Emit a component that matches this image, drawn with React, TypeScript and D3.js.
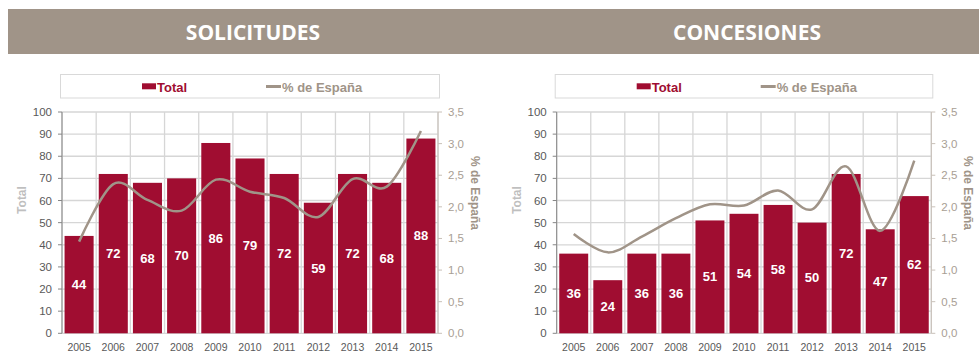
import React from 'react';
import * as d3 from 'd3';

const years = ['2005', '2006', '2007', '2008', '2009', '2010', '2011', '2012', '2013', '2014', '2015'];
const solicitudesTotal = [44, 72, 68, 70, 86, 79, 72, 59, 72, 68, 88];
const solicitudesPct = [1.45, 2.36, 2.11, 1.94, 2.43, 2.24, 2.14, 1.84, 2.44, 2.32, 3.2];
const concesionesTotal = [36, 24, 36, 36, 51, 54, 58, 50, 72, 47, 62];
const concesionesPct = [1.57, 1.28, 1.53, 1.82, 2.04, 2.02, 2.26, 1.96, 2.64, 1.62, 2.73];
const leftTicks = [0, 10, 20, 30, 40, 50, 60, 70, 80, 90, 100];
const rightTicks = [0, 0.5, 1, 1.5, 2, 2.5, 3, 3.5];
const titles = ['SOLICITUDES', 'CONCESIONES'];

const BAR = '#a00d31';
const LINE = '#a09488';
const GRID = '#d6d6d6';
const TXT = '#595959';
const FONT = '"Liberation Sans", Arial, sans-serif';

function Panel({ left, right, title, totals, pcts }: { left: number; right: number; title: string; totals: number[]; pcts: number[] }) {
  const top = 112;
  const bottom = 333.3;
  const x = d3.scaleBand<string>().domain(years).range([left, right]).paddingInner(0.15).paddingOuter(0.075);
  const y = d3.scaleLinear().domain([0, 100]).range([bottom, top]);
  const y2 = d3.scaleLinear().domain([0, 3.5]).range([bottom, top]);
  const step = x.step();
  const line = d3
    .line<number>()
    .x((_, i) => (x(years[i]) as number) + x.bandwidth() / 2)
    .y((d) => y2(d))
    .curve(d3.curveCatmullRom.alpha(0));
  const cx = (left + right) / 2;
  const boundaries = d3.range(years.length + 1).map((i) => left + i * step);
  return (
    <g>
      <text x={cx + 3} y={40} textAnchor="middle" fill="#fff" fontFamily='"Open Sans", sans-serif' fontWeight={700} fontSize={21}>
        {title}
      </text>
      {/* legend */}
      <rect x={left - 1.5} y={74.5} width={right - left + 3} height={23.5} fill="#fff" stroke="#d9d9d9" strokeWidth={1} />
      <rect x={left + 80} y={83.3} width={14} height={6} fill={BAR} />
      <text x={left + 95} y={92} fill={BAR} fontFamily={FONT} fontWeight={700} fontSize={13}>
        Total
      </text>
      <line x1={left + 204} x2={left + 219} y1={86.5} y2={86.5} stroke={LINE} strokeWidth={3} />
      <text x={left + 220} y={92} fill={LINE} fontFamily={FONT} fontWeight={700} fontSize={13}>
        % de España
      </text>
      {/* grid */}
      {leftTicks.map((t) => (
        <line key={'h' + t} x1={left} x2={right} y1={y(t)} y2={y(t)} stroke={GRID} strokeWidth={1.3} />
      ))}
      {boundaries.map((b, i) => (
        <line key={'v' + i} x1={b} x2={b} y1={top} y2={bottom} stroke={GRID} strokeWidth={1.3} />
      ))}
      {/* bars */}
      {totals.map((v, i) => (
        <rect key={'b' + i} x={x(years[i])} y={y(v)} width={x.bandwidth()} height={bottom - y(v)} fill={BAR} />
      ))}
      {totals.map((v, i) => (
        <text
          key={'l' + i}
          x={(x(years[i]) as number) + x.bandwidth() / 2}
          y={(y(v) + bottom) / 2 + 4.5}
          textAnchor="middle"
          fill="#fff"
          fontFamily={FONT}
          fontWeight={700}
          fontSize={13}
        >
          {v}
        </text>
      ))}
      <path d={line(pcts) || ''} fill="none" stroke={LINE} strokeWidth={2.5} />
      {/* left axis */}
      <line x1={left} x2={left} y1={top} y2={bottom} stroke="#868686" strokeWidth={1} />
      {leftTicks.map((t) => (
        <g key={'lt' + t}>
          <line x1={left - 4} x2={left} y1={y(t)} y2={y(t)} stroke="#868686" strokeWidth={1} />
          <text x={left - 10} y={y(t) + 4} textAnchor="end" fill={TXT} fontFamily={FONT} fontSize={11.5}>
            {t}
          </text>
        </g>
      ))}
      {/* right axis */}
      <line x1={right} x2={right} y1={top} y2={bottom} stroke="#c8c0b8" strokeWidth={1} />
      {rightTicks.map((t) => (
        <g key={'rt' + t}>
          <line x1={right} x2={right + 4} y1={y2(t)} y2={y2(t)} stroke="#c8c0b8" strokeWidth={1} />
          <text x={right + 10} y={y2(t) + 4} fill="#a89e94" fontFamily={FONT} fontSize={11.5}>
            {t.toFixed(1).replace('.', ',')}
          </text>
        </g>
      ))}
      {/* x labels */}
      {years.map((yr) => (
        <text
          key={'x' + yr}
          x={(x(yr) as number) + x.bandwidth() / 2}
          y={351}
          textAnchor="middle"
          fill={TXT}
          fontFamily={FONT}
          fontSize={10.5}
        >
          {yr}
        </text>
      ))}
      {/* axis titles */}
      <text
        transform={`translate(${left - 36},200) rotate(-90)`}
        textAnchor="middle"
        fill="#bfbfbf"
        fontFamily={FONT}
        fontWeight={700}
        fontSize={12}
      >
        Total
      </text>
      <text
        transform={`translate(${right + 33},193) rotate(90)`}
        textAnchor="middle"
        fill={LINE}
        fontFamily={FONT}
        fontWeight={700}
        fontSize={12}
      >
        % de España
      </text>
    </g>
  );
}

export default function App() {
  return (
    <svg width={979} height={352} style={{ position: 'absolute', left: 0, top: 0, background: '#fff' }}>
      <rect x={8} y={9} width={971} height={45} fill="#a09488" />
      <Panel left={62} right={438} title={titles[0]} totals={solicitudesTotal} pcts={solicitudesPct} />
      <Panel left={556.7} right={931.3} title={titles[1]} totals={concesionesTotal} pcts={concesionesPct} />
    </svg>
  );
}
